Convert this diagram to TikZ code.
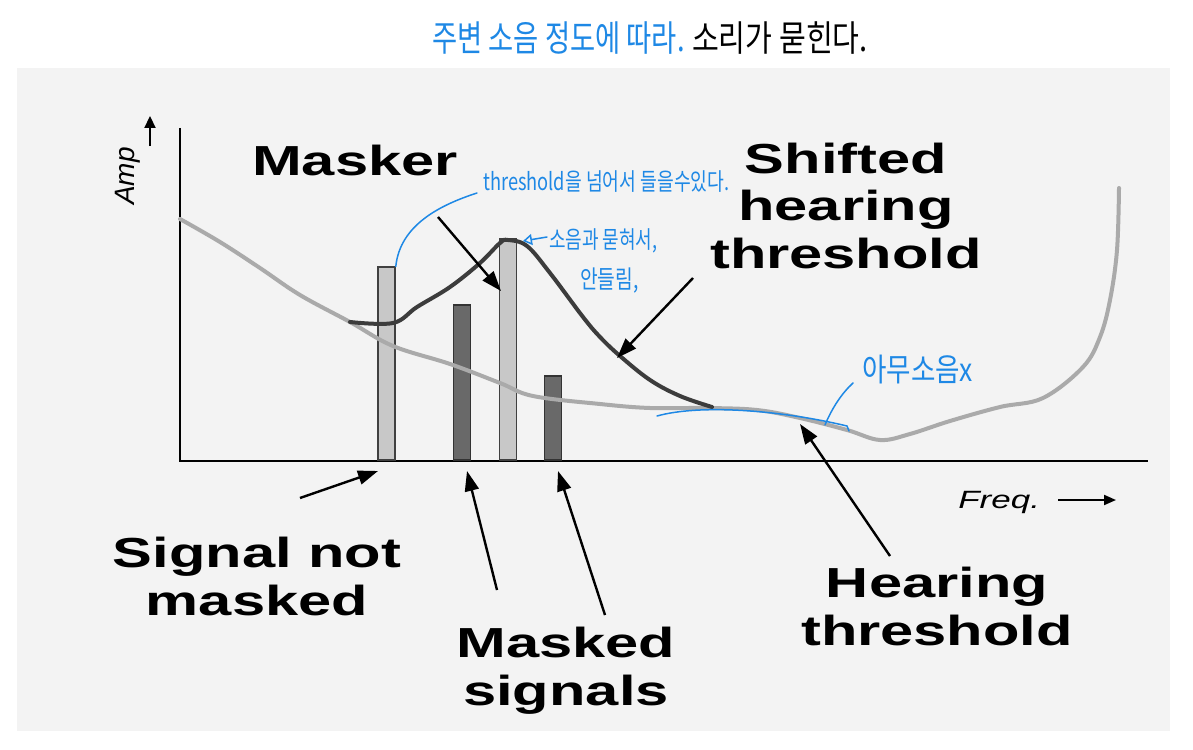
\documentclass[tikz,border=0pt]{standalone}
\usepackage{fontspec}
\setmainfont{Liberation Sans}
\newfontfamily\kor{Noto Sans CJK KR}
\usetikzlibrary{arrows.meta}
\definecolor{panel}{RGB}{243,243,243}
\definecolor{pen}{RGB}{30,136,229}
\definecolor{litebar}{RGB}{200,200,200}
\definecolor{darkbar}{RGB}{105,105,105}
\definecolor{thr}{RGB}{170,170,170}
\definecolor{sthr}{RGB}{60,60,60}
\begin{document}
\begin{tikzpicture}[x=1pt,y=-1pt,
  lbl/.style={font=\fontsize{42}{47.5}\selectfont\bfseries, xscale=1.42, align=center, inner sep=0pt, anchor=base},
  axlbl/.style={font=\fontsize{25}{28}\selectfont\itshape, inner sep=0pt},
  litebox/.style={draw=black!75, fill=litebar, line width=1.6pt, minimum width=17pt, anchor=south, inner sep=0pt},
  darkbox/.style={draw=black!80, fill=darkbar, line width=1.6pt, minimum width=17pt, anchor=south, inner sep=0pt},
  arr/.style={line width=2.4pt, -{Triangle[length=20pt,width=14pt]}},
  hand/.style={text=pen, inner sep=0pt},
  pens/.style={draw=pen, line width=1.5pt, line cap=round}
]
\useasboundingbox (0,0) rectangle (1193,749);
\fill[white] (0,0) rectangle (1193,749);
\fill[panel] (17,68) rectangle (1170,731);

% axes
\coordinate (orig) at (180,461);
\coordinate (ytop) at (180,128);
\coordinate (xend) at (1148,461);
\draw[line width=2pt] (ytop) -- (orig) -- (xend);

% axis labels
\node[axlbl, rotate=90, font=\fontsize{28}{30}\selectfont\itshape] (amp) at (128,176) {Amp};
\coordinate (ampa) at (150,146);
\coordinate (ampb) at (150,116);
\draw[line width=2.2pt, -{Triangle[length=12pt,width=11pt]}] (ampa) -- (ampb);
\node[axlbl, xscale=1.4, anchor=base west] (freq) at (958,508) {Freq.};
\coordinate (fra) at (1058,500);
\coordinate (frb) at (1116,500);
\draw[line width=2pt, -{Triangle[length=12pt,width=10pt]}] (fra) -- (frb);

% bars
\node[litebox, minimum height=193pt] (b1) at (386.5,461) {};
\node[darkbox, minimum height=155pt] (b2) at (462,461) {};
\node[litebox, minimum height=221pt] (b3) at (508,461) {};
\node[darkbox, minimum height=84pt] (b4) at (553,461) {};

% hearing threshold
\draw[thr, line width=4pt, line cap=round] plot[smooth, tension=0.6] coordinates {
 (180,219) (220,242) (260,268) (300,295) (350,322) (393,346) (450,364) (500,383)
 (533,396) (600,404) (650,408) (707,408) (757,410) (800,418) (847,430) (880,440)
 (910,434) (950,421) (1000,407) (1043,398) (1083,367) (1100,337) (1110,300) (1117,250) (1119,188)};
% shifted threshold
\draw[sthr, line width=4pt, line cap=round] plot[smooth, tension=0.6] coordinates {
 (350,322) (393,323) (417,307) (450,287) (480,263) (500,243) (508,240) (527,246)
 (550,273) (583,317) (600,337) (620,356) (650,380) (680,396) (712,407)};

% labels (base = baseline of the last line)
\node[lbl] (masker) at (355,175) {Masker};
\node[lbl] (shifted) at (846,268) {Shifted\\hearing\\threshold};
\node[lbl] (signm) at (257,615) {Signal not\\masked};
\node[lbl] (msig) at (566,705) {Masked\\signals};
\node[lbl] (hear) at (937,645) {Hearing\\threshold};

% black arrows
\coordinate (a1s) at (438,217); \coordinate (a1e) at (501,291);
\draw[arr] (a1s) -- (a1e);
\coordinate (a2s) at (693,278); \coordinate (a2e) at (617,358);
\draw[arr] (a2s) -- (a2e);
\coordinate (a3s) at (300,498); \coordinate (a3e) at (378,471);
\draw[arr] (a3s) -- (a3e);
\coordinate (a4s) at (497,590); \coordinate (a4e) at (467,471);
\draw[arr] (a4s) -- (a4e);
\coordinate (a5s) at (605,615); \coordinate (a5e) at (558,471);
\draw[arr] (a5s) -- (a5e);
\coordinate (a6s) at (890,556); \coordinate (a6e) at (800,424);
\draw[arr] (a6s) -- (a6e);

% handwritten notes
\node[hand, anchor=base west, font=\kor\fontsize{36}{38}\selectfont, xscale=0.76] (top1) at (432,52) {주변 소음 정도에 따라.};
\node[hand, text=black, anchor=base west, font=\kor\fontsize{36}{38}\selectfont, xscale=0.81] (top2) at (692,52) {소리가 묻힌다.};
\node[hand, anchor=base west, font=\kor\fontsize{24}{26}\selectfont, xscale=0.76] (n1) at (483,190) {threshold을 넘어서 들을수있다.};
\node[hand, anchor=base west, font=\kor\fontsize{24}{26}\selectfont, xscale=0.75] (n2) at (549,248) {소음과 묻혀서,};
\node[hand, anchor=base west, font=\kor\fontsize{25}{26}\selectfont, xscale=0.77] (n3) at (580,288) {안들림,};
\node[hand, anchor=base west, font=\kor\fontsize{32}{34}\selectfont, xscale=0.83] (n4) at (862,381) {아무소음x};

% blue strokes
\coordinate (p1) at (477,193);
\draw[pens] (p1) .. controls (440,205) and (400,225) .. (b1.north east);
\coordinate (p2) at (547,237); \coordinate (p3) at (523,241);
\draw[pens, -{Triangle[open, length=9pt, width=11pt]}] (p2) -- (p3);
\coordinate (q0) at (657,416); \coordinate (q1) at (847,426); \coordinate (q2) at (849,431);
\draw[pens] (q0) .. controls (700,404) and (780,410) .. (q1) -- (q2);
\coordinate (q3) at (825,425); \coordinate (q4) at (853,383);
\draw[pens] (q3) .. controls (832,408) and (842,393) .. (q4);
\end{tikzpicture}
\end{document}
